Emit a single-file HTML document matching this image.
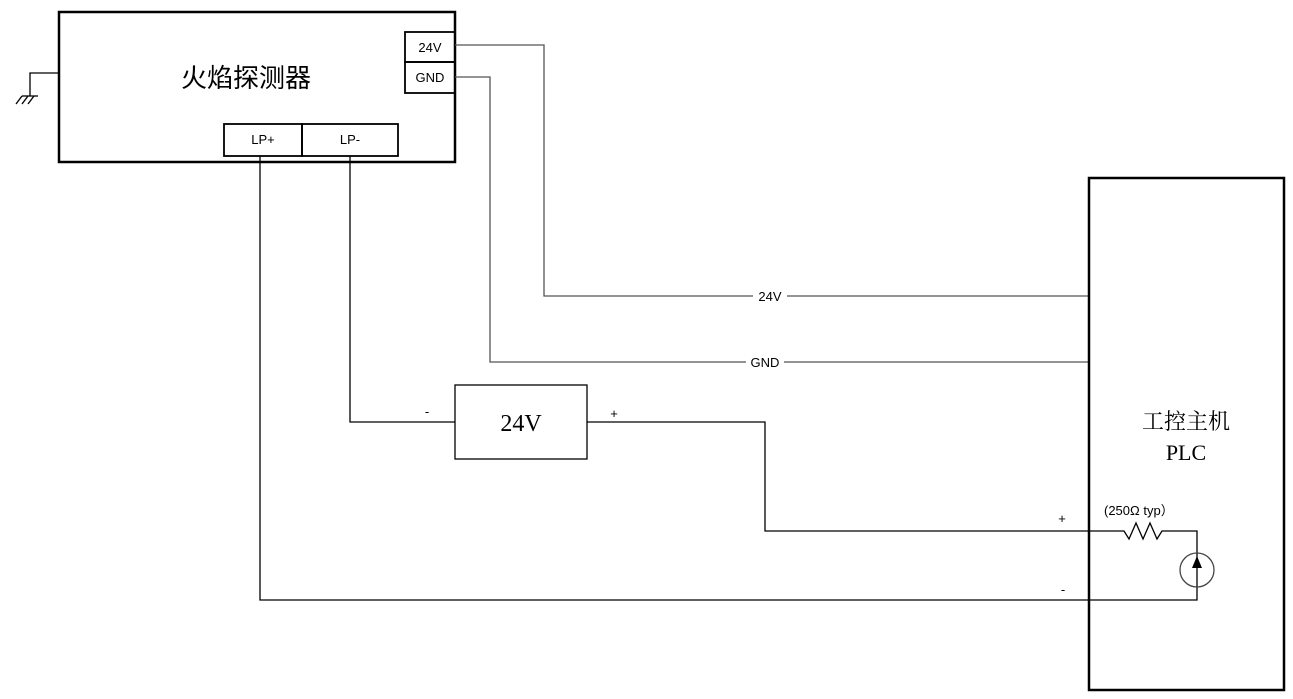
<!DOCTYPE html>
<html><head><meta charset="utf-8"><style>
html,body{margin:0;padding:0;background:#fff;width:1293px;height:699px;overflow:hidden}
svg{display:block}
text{font-family:"Liberation Sans","Noto Sans CJK SC",sans-serif;fill:#000}
.s{font-family:"Liberation Serif","Noto Serif CJK SC",serif}
</style></head><body>
<svg width="1293" height="699" viewBox="0 0 1293 699" xmlns="http://www.w3.org/2000/svg">
<g fill="none" stroke="#000" stroke-width="1.3">
<rect x="59" y="12" width="396" height="150" stroke-width="2.5"/>
<rect x="405" y="32" width="50" height="30" stroke-width="1.8"/>
<rect x="405" y="62" width="50" height="31" stroke-width="1.8"/>
<rect x="224" y="124" width="78" height="32" stroke-width="1.8"/>
<rect x="302" y="124" width="96" height="32" stroke-width="1.8"/>
<polyline points="59,73 30,73 30,96"/>
<line x1="22" y1="96" x2="38" y2="96"/>
<line x1="22" y1="96" x2="16" y2="104"/>
<line x1="28" y1="96" x2="22" y2="104"/>
<line x1="34" y1="96" x2="28" y2="104"/>
<polyline points="455,45 544,45 544,296 1089,296" stroke="#555"/>
<polyline points="455,77 490,77 490,362 1089,362" stroke="#555"/>
<polyline points="350,156 350,422 455,422"/>
<rect x="455" y="385" width="132" height="74"/>
<polyline points="587,422 765,422 765,531 1120,531"/>
<polyline points="1120,531 1124,531 1129,539 1136,523 1143,539 1150,523 1157,539 1162,531 1197,531 1197,600 260,600 260,156"/>
<circle cx="1197" cy="570" r="17" stroke="#444"/>
<rect x="1089" y="178" width="195" height="512" stroke-width="2.5"/>
</g>
<polygon points="1197,556 1192,568 1202,568" fill="#000"/>
<rect x="753" y="288" width="34" height="16" fill="#fff"/>
<rect x="746" y="354" width="38" height="16" fill="#fff"/>
<text x="770" y="301" font-size="13" text-anchor="middle">24V</text>
<text x="765" y="367" font-size="13" text-anchor="middle">GND</text>
<text x="246" y="87" font-size="26" text-anchor="middle" fill="#444">火焰探测器</text>
<text x="430" y="52" font-size="13" text-anchor="middle">24V</text>
<text x="430" y="82" font-size="13" text-anchor="middle">GND</text>
<text x="263" y="144" font-size="13" text-anchor="middle">LP+</text>
<text x="350" y="144" font-size="13" text-anchor="middle">LP-</text>
<text class="s" x="521" y="431" font-size="24" text-anchor="middle">24V</text>
<text x="427" y="416" font-size="13" text-anchor="middle">-</text>
<text x="614" y="418" font-size="13" text-anchor="middle">+</text>
<text x="1062" y="523" font-size="13" text-anchor="middle">+</text>
<text x="1063" y="594" font-size="13" text-anchor="middle">-</text>
<text x="1104" y="515" font-size="13">(250Ω typ）</text>
<text class="s" x="1186" y="429" font-size="22" text-anchor="middle">工控主机</text>
<text class="s" x="1186" y="460" font-size="22" text-anchor="middle">PLC</text>
</svg>
</body></html>
